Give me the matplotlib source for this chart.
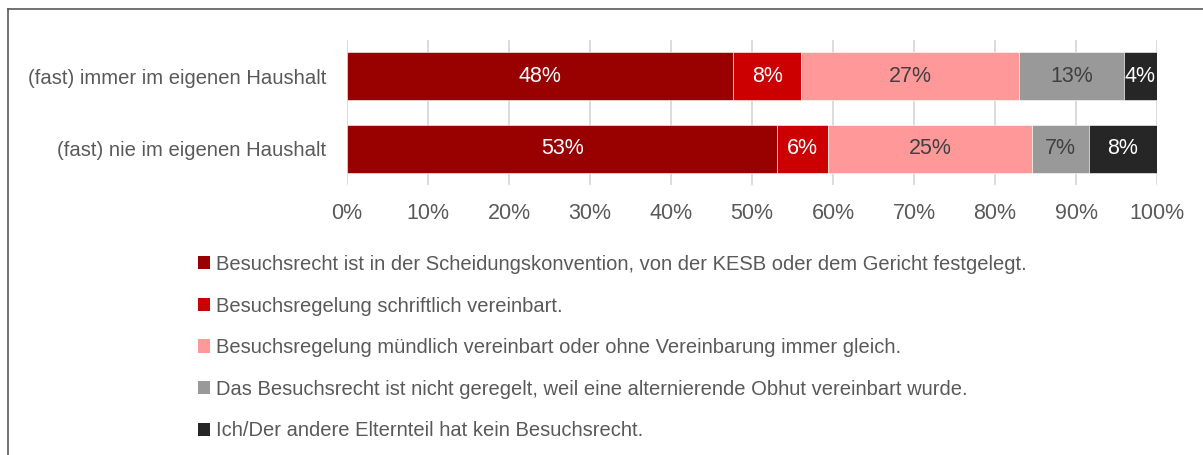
import matplotlib
matplotlib.use("Agg")
import matplotlib.pyplot as plt
from matplotlib.patches import Patch
from matplotlib.lines import Line2D
import numpy as np

plt.rcParams['font.family'] = ['Liberation Sans', 'DejaVu Sans']

categories = ["(fast) immer im eigenen Haushalt", "(fast) nie im eigenen Haushalt"]
series_names = [
    "Besuchsrecht ist in der Scheidungskonvention, von der KESB oder dem Gericht festgelegt.",
    "Besuchsregelung schriftlich vereinbart.",
    "Besuchsregelung mündlich vereinbart oder ohne Vereinbarung immer gleich.",
    "Das Besuchsrecht ist nicht geregelt, weil eine alternierende Obhut vereinbart wurde.",
    "Ich/Der andere Elternteil hat kein Besuchsrecht.",
]
values_immer = [47.7, 8.4, 26.9, 12.9, 4.1]
values_nie = [53.1, 6.3, 25.2, 7.0, 8.4]
tick_values = [0, 10, 20, 30, 40, 50, 60, 70, 80, 90, 100]

colors = ["#990000", "#cc0000", "#ff9999", "#999999", "#262626"]
text_colors = ["white", "white", "#404040", "#404040", "white"]

W, H = 1203, 455
fig = plt.figure(figsize=(W / 100, H / 100), dpi=100)
ax = fig.add_axes([347 / W, 1 - 185 / H, (1157 - 347) / W, (185 - 40) / H])

data = np.array([values_immer, values_nie])
y = np.arange(len(categories))
left = np.zeros(len(categories))
for i, name in enumerate(series_names):
    vals = data[:, i]
    ax.barh(y, vals, left=left, height=0.66, color=colors[i], label=name,
            edgecolor='white', linewidth=0.4, zorder=3)
    for j in range(len(categories)):
        ax.text(left[j] + vals[j] / 2, y[j], f"{round(vals[j]):.0f}%",
                ha='center', va='center', color=text_colors[i], fontsize=15.5, zorder=4)
    left += vals

ax.set_xlim(0, 100)
ax.set_ylim(1.5, -0.5)
ax.set_yticks(y)
ax.set_yticklabels(categories, fontsize=14.6, color='#595959')
ax.set_xticks(tick_values)
ax.set_xticklabels([f"{v}%" for v in tick_values], fontsize=15.5, color='#595959')
ax.tick_params(axis='both', length=0)
ax.tick_params(axis='y', pad=15)
ax.tick_params(axis='x', pad=13)
ax.xaxis.grid(True, color='#d9d9d9', linewidth=1.3, zorder=0)
for s in ax.spines.values():
    s.set_visible(False)

handles = [Patch(facecolor=c, edgecolor='none') for c in colors]
leg = fig.legend(handles, series_names, loc='upper left',
                 bbox_to_anchor=(198 / W, 1 - 255 / H), frameon=False,
                 fontsize=14.5, labelcolor='#595959', handlelength=0.62, handleheight=0.62,
                 handletextpad=0.27, labelspacing=1.12, borderpad=0, borderaxespad=0)

# outer frame: top and left lines
fig.add_artist(Line2D([8 / W, 1.0], [1 - 9 / H, 1 - 9 / H], transform=fig.transFigure,
                      color='#595959', linewidth=1.2))
fig.add_artist(Line2D([8 / W, 8 / W], [0.0, 1 - 9 / H], transform=fig.transFigure,
                      color='#595959', linewidth=1.2))

fig.savefig("out.png", dpi=100)
